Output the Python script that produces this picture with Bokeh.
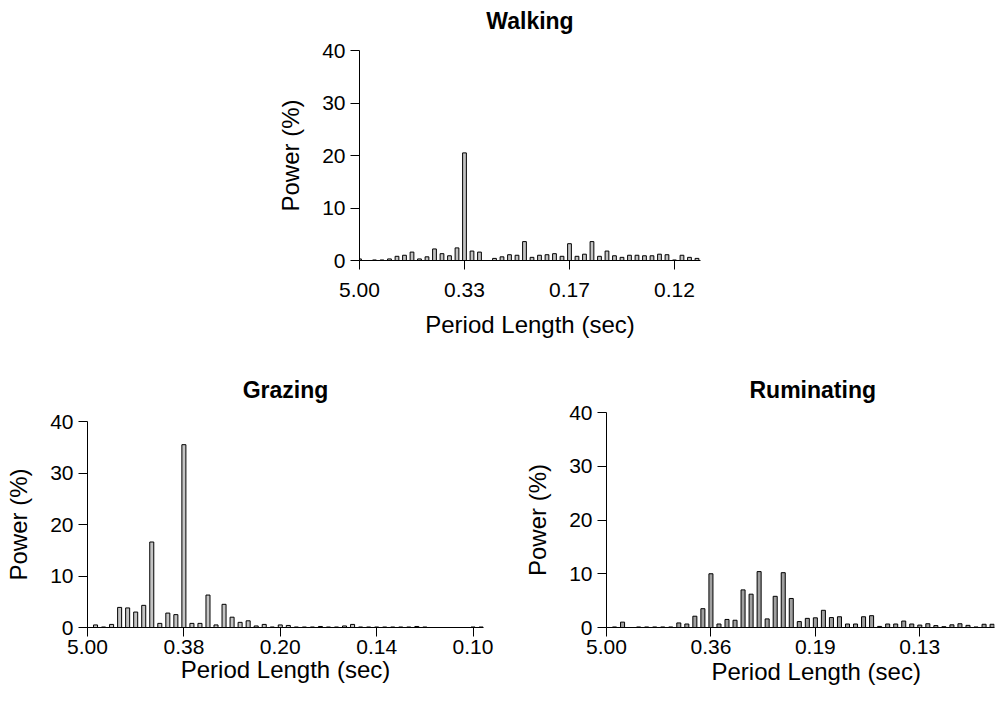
from bokeh.plotting import figure
from bokeh.models import Range1d, FixedTicker, Spacer, Title
from bokeh.layouts import row, column
from bokeh.embed import file_html
from bokeh.resources import INLINE
from bokeh.core.properties import value

FONT = "Liberation Sans"

# ---- data (bin index along frequency axis, power in %) ----
walking_power = [0.3, 0.0, 0.1, 0.1, 0.3, 0.8, 1.0, 1.6, 0.3, 0.7,
                 2.2, 1.3, 0.9, 2.4, 20.5, 1.8, 1.6, 0.0, 0.4, 0.7,
                 1.1, 1.0, 3.6, 0.6, 1.0, 1.1, 1.3, 0.8, 3.2, 0.8,
                 1.2, 3.6, 0.8, 1.8, 0.9, 0.6, 1.0, 1.0, 0.9, 0.9,
                 1.2, 1.1, 0.1, 1.0, 0.6, 0.4]
walking_ticks = [0, 14, 28, 42]
walking_tick_labels = ["5.00", "0.33", "0.17", "0.12"]

grazing_power = [0.0, 0.5, 0.1, 0.6, 3.9, 3.8, 3.0, 4.3, 16.6, 0.8,
                 2.8, 2.5, 35.5, 0.8, 0.8, 6.3, 0.5, 4.5, 2.0, 1.0,
                 1.3, 0.3, 0.6, 0.1, 0.5, 0.4, 0.1, 0.1, 0.1, 0.2,
                 0.1, 0.1, 0.3, 0.6, 0.1, 0.1, 0.1, 0.1, 0.1, 0.1,
                 0.1, 0.2, 0.1, 0.0, 0.0, 0.0, 0.0, 0.0, 0.1, 0.1]
grazing_ticks = [0, 12, 24, 36, 48]
grazing_tick_labels = ["5.00", "0.38", "0.20", "0.14", "0.10"]

ruminating_power = [0.0, 0.1, 1.0, 0.0, 0.1, 0.1, 0.1, 0.1, 0.1, 0.85,
                    0.65, 2.1, 3.5, 10.0, 0.65, 1.5, 1.35, 7.0, 6.2, 10.4,
                    1.6, 5.8, 10.2, 5.4, 1.1, 1.7, 1.8, 3.2, 1.85, 2.0,
                    0.65, 0.65, 2.0, 2.2, 0.2, 0.65, 0.65, 1.2, 0.65, 0.45,
                    0.7, 0.35, 0.15, 0.5, 0.7, 0.4, 0.1, 0.6, 0.6]
ruminating_ticks = [0, 13, 26, 39]
ruminating_tick_labels = ["5.00", "0.36", "0.19", "0.13"]

y_ticks = [0, 10, 20, 30, 40]
X_LABEL = "Period Length (sec)"
Y_LABEL = "Power (%)"

TITLE_SIZE = "23px"
AXIS_LABEL_SIZE = "24px"
TICK_SIZE = "21px"


def panel(power, ticks, tick_labels, x_end, width, height,
          left, right, top, bottom, fill, tick_standoff):
    p = figure(width=width, height=height, output_backend="svg",
               toolbar_location=None,
               x_range=Range1d(0, x_end), y_range=Range1d(0, 40),
               min_border_left=left, min_border_right=right,
               min_border_top=top, min_border_bottom=bottom)
    p.vbar(x=list(range(len(power))), top=power, bottom=0, width=0.5,
           fill_color=fill, line_color="black", line_width=1)
    p.grid.visible = False
    p.outline_line_color = None
    p.background_fill_color = "white"
    p.border_fill_color = "white"

    for ax in (p.xaxis[0], p.yaxis[0]):
        ax.axis_line_color = "black"
        ax.axis_line_width = 1
        ax.major_tick_line_color = "black"
        ax.major_tick_out = 9
        ax.major_tick_in = 0
        ax.minor_tick_line_color = None
        ax.major_label_text_font = FONT
        ax.major_label_text_font_size = TICK_SIZE
        ax.major_label_text_color = "black"
        ax.axis_label_text_font = FONT
        ax.axis_label_text_font_size = AXIS_LABEL_SIZE
        ax.axis_label_text_font_style = "normal"
        ax.axis_label_text_color = "black"

    xa = p.xaxis[0]
    xa.ticker = FixedTicker(ticks=ticks)
    xa.major_label_overrides = {t: l for t, l in zip(ticks, tick_labels)}
    xa.major_label_standoff = tick_standoff

    ya = p.yaxis[0]
    ya.ticker = FixedTicker(ticks=y_ticks)
    ya.major_label_standoff = 5
    ya.axis_label = Y_LABEL
    ya.axis_label_standoff = 15
    return p


def style_title(t, size=TITLE_SIZE, bold=True):
    t.text_font = FONT
    t.text_font_size = size
    t.text_font_style = "bold" if bold else "normal"
    t.text_color = "black"


# ---------------- Walking (top) ----------------
walk = panel(walking_power, walking_ticks, walking_tick_labels,
             45.47, 461, 310, 100, 20, 15, 85, "#c4c4c4", 13)
walk.xaxis[0].axis_label = X_LABEL
walk.xaxis[0].axis_label_standoff = 11

walk_head = figure(width=461, height=35, output_backend="svg",
                   toolbar_location=None, x_range=walk.x_range,
                   y_range=Range1d(35, 0), x_axis_location=None,
                   y_axis_location=None, min_border_left=100,
                   min_border_right=20, min_border_top=0,
                   min_border_bottom=0)
walk_head.grid.visible = False
walk_head.outline_line_color = None
walk_head.text(x=[walk.x_range.end / 2], y=[20], text=["Walking"],
               text_align="center", text_baseline="middle",
               text_font=value(FONT), text_font_size=value(TITLE_SIZE),
               text_font_style=value("bold"), text_color="black")

# ---------------- Grazing (bottom left) ----------------
graz = panel(grazing_power, grazing_ticks, grazing_tick_labels,
             49.3, 510, 361, 87, 27, 76, 79, "#c4c4c4", 3)
graz.title.text = "Grazing"
graz.title.align = "center"
graz.title.standoff = 38
style_title(graz.title)
graz.xaxis[0].axis_label = X_LABEL
graz.xaxis[0].axis_label_standoff = -1

# ---------------- Ruminating (bottom right, cropped at right) ----------------
rum = panel(ruminating_power, ruminating_ticks, ruminating_tick_labels,
            48.3, 485, 361, 96, 1, 67, 79, "#a0a0a0", 3)
rum.title.text = "Ruminating"
rum.title.align = "left"
rum.title.offset = 143
rum.title.standoff = 20
style_title(rum.title)
rum_xlabel = Title(text=X_LABEL, align="left", offset=105,
                   vertical_align="middle", standoff=0)
style_title(rum_xlabel, AXIS_LABEL_SIZE, bold=False)
rum.add_layout(rum_xlabel, "below")

layout = column(row(Spacer(width=259, height=345),
                    column(walk_head, walk)),
                row(column(graz), column(rum)))
open("out.html", "w").write(file_html(layout, INLINE))
